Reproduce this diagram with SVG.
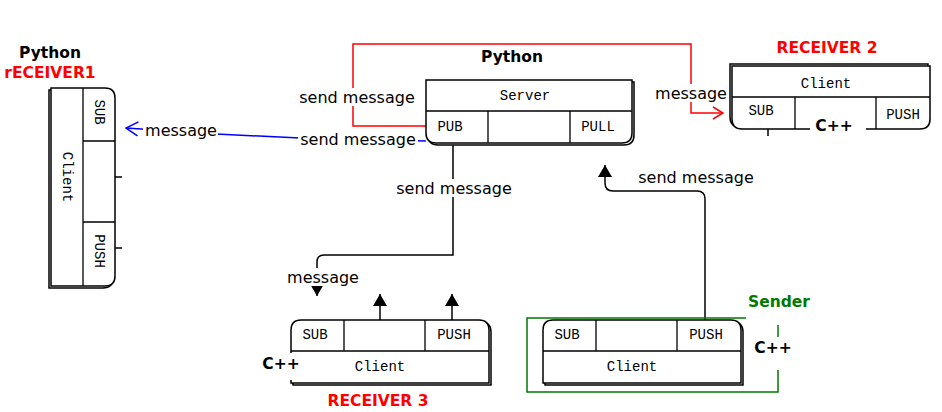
<svg xmlns="http://www.w3.org/2000/svg" width="942" height="412" viewBox="0 0 942 412">
<style>
.box{fill:#fff;stroke:#000;stroke-width:1.5}
.sh{fill:#fff;stroke:#000;stroke-width:1.5}
.cell{fill:none;stroke:#000;stroke-width:1.3}
.mono{font-family:"Liberation Mono","DejaVu Sans Mono",monospace;font-size:14px;fill:#000;text-anchor:middle;dominant-baseline:central}
.lbl{font-family:"DejaVu Sans",sans-serif;font-size:16px;fill:#000;text-anchor:middle;dominant-baseline:central}
.bold{font-family:"DejaVu Sans",sans-serif;font-size:15.5px;font-weight:bold;text-anchor:middle;dominant-baseline:central}
.bg{fill:#fff;stroke:none}
.blk{fill:none;stroke:#000;stroke-width:1.5}
</style>
<defs>
<marker id="tri" markerWidth="12" markerHeight="14" refX="12" refY="7" orient="auto" markerUnits="userSpaceOnUse" viewBox="0 0 12 14">
<path d="M0,0 L12,7 L0,14 Z" fill="#000"/>
</marker>
<marker id="openRed" markerWidth="12" markerHeight="14" refX="11" refY="7" orient="auto" markerUnits="userSpaceOnUse" viewBox="0 0 12 14">
<path d="M1,1 L11,7 L1,13" fill="none" stroke="#f00" stroke-width="1.5"/>
</marker>
<marker id="openBlue" markerWidth="14" markerHeight="16" refX="13" refY="8" orient="auto" markerUnits="userSpaceOnUse" viewBox="0 0 14 16">
<path d="M1,1 L13,8 L1,15" fill="none" stroke="#00f" stroke-width="1.5"/>
</marker>
</defs>

<g id="connectors">
<!-- red -->
<path d="M426,126 L353,126 L353,44 L691,44 L691,113 L723,113" fill="none" stroke="#f00" stroke-width="1.5" marker-end="url(#openRed)"/>
<rect class="bg" x="298" y="88" width="119" height="18"/>
<text class="lbl" x="357" y="97">send message</text>
<rect class="bg" x="654" y="84" width="75" height="18"/>
<text class="lbl" x="691" y="93">message</text>
<!-- blue -->
<path d="M426,141 L300,138 L216,134 L126,128" fill="none" stroke="#00f" stroke-width="1.5" marker-end="url(#openBlue)"/>
<rect class="bg" x="298" y="130" width="120" height="18"/>
<text class="lbl" x="358" y="139">send message</text>
<rect class="bg" x="143" y="121" width="75" height="18"/>
<text class="lbl" x="181" y="130">message</text>
<!-- server PUB to receiver3 -->
<path class="blk" d="M453,143 L453,255 L324,255 Q317,255 317,262 L317,296" marker-end="url(#tri)"/>
<rect class="bg" x="394" y="179" width="120" height="18"/>
<text class="lbl" x="454" y="188">send message</text>
<rect class="bg" x="284" y="268" width="78" height="18"/>
<text class="lbl" x="323" y="277">message</text>
<!-- receiver3 up arrows -->
<path class="blk" d="M380,320 L380,294" marker-end="url(#tri)"/>
<path class="blk" d="M452,320 L452,294" marker-end="url(#tri)"/>
<!-- sender to server PULL -->
<path class="blk" d="M705,320 L705,199 Q705,191 697,191 L613,191 Q605,191 605,183 L605,165" marker-end="url(#tri)"/>
<text class="lbl" x="696" y="177">send message</text>
<!-- receiver1 ticks -->
<path class="blk" d="M115,177 L122,177 M115,248 L122,248"/>
<!-- receiver2 tick -->
<path class="blk" d="M768,129 L768,136"/>
</g>

<g id="receiver1">
<path class="sh" transform="translate(-2,2)" d="M51,88 L105,88 Q115,88 115,98 L115,276 Q115,286 105,286 L51,286 Z"/>
<path class="box" d="M51,88 L105,88 Q115,88 115,98 L115,276 Q115,286 105,286 L51,286 Z"/>
<path class="cell" d="M83,88 L83,286 M83,141 L115,141 M83,222 L115,222"/>
<text class="mono" transform="translate(67,177) rotate(90)">Client</text>
<text class="mono" transform="translate(99,112) rotate(90)">SUB</text>
<text class="mono" transform="translate(99,251) rotate(90)">PUSH</text>
<text class="bold" x="50" y="53" fill="#000">Python</text>
<text class="bold" x="50" y="73" fill="#f00">rECEIVER1</text>
</g>

<g id="server">
<path class="sh" transform="translate(2,2)" d="M426,80 L632,80 L632,133 Q632,143 622,143 L436,143 Q426,143 426,133 Z"/>
<path class="box" d="M426,80 L632,80 L632,133 Q632,143 622,143 L436,143 Q426,143 426,133 Z"/>
<path class="cell" d="M426,111 L632,111 M488,111 L488,143 M570,111 L570,143"/>
<text class="mono" x="525" y="96">Server</text>
<text class="mono" x="450" y="127">PUB</text>
<text class="mono" x="598" y="127">PULL</text>
<text class="bold" x="512" y="57" fill="#000">Python</text>
</g>

<g id="receiver2">
<path class="sh" transform="translate(-2,-2)" d="M732,66 L930,66 L930,119 Q930,129 920,129 L742,129 Q732,129 732,119 Z"/>
<path class="box" d="M732,66 L930,66 L930,119 Q930,129 920,129 L742,129 Q732,129 732,119 Z"/>
<path class="cell" d="M732,97 L930,97 M795,97 L795,129 M876,97 L876,129"/>
<text class="mono" x="826" y="84">Client</text>
<text class="mono" x="761" y="111">SUB</text>
<text class="mono" x="903" y="115">PUSH</text>
<rect class="bg" x="810" y="122" width="56" height="10"/>
<text class="bold" x="834" y="126" fill="#000">C++</text>
<text class="bold" x="827" y="48" fill="#f00">RECEIVER 2</text>
</g>

<g id="receiver3">
<path class="sh" transform="translate(2,2)" d="M301,320 L479,320 Q489,320 489,330 L489,383 L291,383 L291,330 Q291,320 301,320 Z"/>
<path class="box" d="M301,320 L479,320 Q489,320 489,330 L489,383 L291,383 L291,330 Q291,320 301,320 Z"/>
<path class="cell" d="M291,351 L489,351 M344,320 L344,351 M425,320 L425,351"/>
<text class="mono" x="315" y="335">SUB</text>
<text class="mono" x="454" y="335">PUSH</text>
<text class="mono" x="380" y="367">Client</text>
<rect class="bg" x="260" y="353" width="33" height="27"/>
<text class="bold" x="281" y="364" fill="#000">C++</text>
<text class="bold" x="378" y="401" fill="#f00">RECEIVER 3</text>
</g>

<g id="sender">
<path d="M746,318 L527,318 L527,392 L778,392 L778,370 M778,337 L778,325" fill="none" stroke="#007a00" stroke-width="1.5"/>
<path class="sh" transform="translate(2,2)" d="M553,320 L731,320 Q741,320 741,330 L741,383 L543,383 L543,330 Q543,320 553,320 Z"/>
<path class="box" d="M553,320 L731,320 Q741,320 741,330 L741,383 L543,383 L543,330 Q543,320 553,320 Z"/>
<path class="cell" d="M543,351 L741,351 M596,320 L596,351 M677,320 L677,351"/>
<text class="mono" x="567" y="335">SUB</text>
<text class="mono" x="706" y="335">PUSH</text>
<text class="mono" x="632" y="367">Client</text>
<text class="bold" x="773" y="348" fill="#000">C++</text>
<text class="bold" x="779" y="302" fill="#007a00">Sender</text>
</g>
</svg>
